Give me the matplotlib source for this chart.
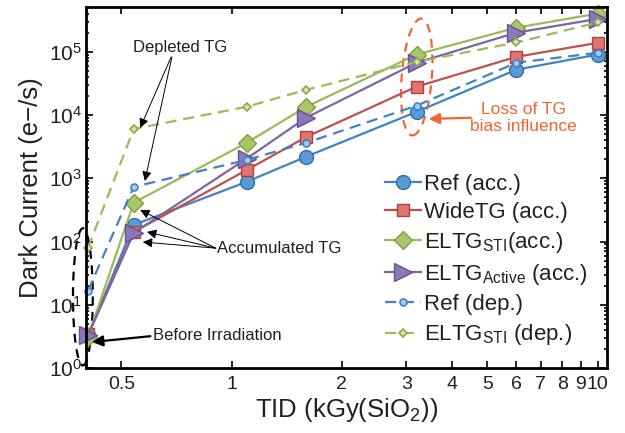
import numpy as np
import matplotlib
matplotlib.use("Agg")
import matplotlib.pyplot as plt
from matplotlib.patches import Ellipse
from matplotlib.ticker import FixedLocator, FixedFormatter, LogFormatterMathtext, LogLocator, NullFormatter

plt.rcParams['font.family'] = ['Liberation Sans', 'DejaVu Sans']
plt.rcParams['mathtext.fontset'] = 'custom'
plt.rcParams['mathtext.rm'] = 'Liberation Sans'
plt.rcParams['mathtext.it'] = 'Liberation Sans:italic'
plt.rcParams['mathtext.bf'] = 'Liberation Sans:bold'

TXT = '#231F20'

# TID (kGy(SiO2)), first point = before irradiation
tid = [0.405, 0.54, 1.1, 1.6, 3.2, 6.0, 10.0]

ref_acc = [3.3, 183, 880, 2200, 1.12e4, 5.2e4, 9.0e4]
widetg_acc = [3.4, 142, 1350, 4500, 2.8e4, 8.3e4, 1.38e5]
eltg_sti_acc = [3.1, 410, 3640, 1.35e4, 9.0e4, 2.4e5, 4.0e5]
eltg_act_acc = [3.3, 137, 2050, 9100, 6.7e4, 2.0e5, 3.3e5]
ref_dep = [16.6, 730, 1950, 3640, 1.4e4, 6.7e4, 9.6e4]
eltg_sti_dep = [79, 6000, 1.35e4, 2.5e4, 6.9e4, 1.4e5, 2.9e5]

labels = ['Ref (acc.)', 'WideTG (acc.)', r'ELTG$_{\mathrm{STI}}$(acc.)',
          r'ELTG$_{\mathrm{Active}}$ (acc.)', 'Ref (dep.)',
          r'ELTG$_{\mathrm{STI}}$ (dep.)']

xticks = [0.5, 1, 2, 3, 4, 5, 6, 7, 8, 9, 10]
xticklabels = ['0.5', '1', '2', '3', '4', '5', '6', '7', '8', '9', '10']

fig = plt.figure(figsize=(6.25, 4.33), dpi=100)
ax = fig.add_axes([0.1376, 0.150, 0.8334, 0.834])

ax.plot(tid, ref_acc, '-', color='#3F83C4', lw=1.6, marker='o', ms=10,
        mfc='#5A9BD5', mec='#2F6EAD', mew=1.0, clip_on=False, label=labels[0])
ax.plot(tid, widetg_acc, '-', color='#C0504D', lw=1.6, marker='s', ms=8.5,
        mfc='#E07470', mec='#B0403D', mew=1.0, clip_on=False, label=labels[1])
ax.plot(tid, eltg_sti_acc, '-', color='#9BBB59', lw=1.6, marker='D', ms=9,
        mfc='#A8C66A', mec='#80A040', mew=1.0, clip_on=False, label=labels[2])
ax.plot(tid, eltg_act_acc, '-', color='#8064A2', lw=1.6, marker='>', ms=13,
        mfc='#8C78B8', mec='#6A5090', mew=1.0, clip_on=False, label=labels[3])
ax.plot(tid, ref_dep, '--', color='#3F83C4', lw=1.6, dashes=(5, 3), marker='o', ms=5,
        mfc='#A9CBEA', mec='#3F83C4', mew=1.2, clip_on=False, label=labels[4])
ax.plot(tid, eltg_sti_dep, '--', color='#9BBB59', lw=1.6, dashes=(5, 3), marker='D', ms=4.5,
        mfc='#D6E6B8', mec='#8AAA4A', mew=1.2, clip_on=False, label=labels[5])

ax.set_xscale('log')
ax.set_yscale('log')
ax.set_xlim(0.4, 10.6)
ax.set_ylim(1, 5.1e5)

ax.xaxis.set_major_locator(FixedLocator(xticks))
ax.xaxis.set_major_formatter(FixedFormatter(xticklabels))
ax.xaxis.set_minor_locator(FixedLocator([]))
ax.xaxis.set_minor_formatter(NullFormatter())
ax.yaxis.set_major_locator(LogLocator(base=10, numticks=10))
ax.yaxis.set_major_formatter(LogFormatterMathtext())
ax.yaxis.set_minor_locator(LogLocator(base=10, subs=np.arange(2, 10), numticks=20))
ax.yaxis.set_minor_formatter(NullFormatter())

ax.tick_params(which='both', direction='in', top=True, right=True, colors='black',
               labelcolor=TXT, width=1.2)
ax.tick_params(which='major', length=5)
ax.tick_params(which='minor', length=2.5)
ax.tick_params(axis='x', labelsize=14, pad=6)
ax.tick_params(axis='y', labelsize=15, pad=3)
for s in ax.spines.values():
    s.set_linewidth(2.0)

ax.set_xlabel(r'TID (kGy(SiO$_2$))', fontsize=18.5, color=TXT, labelpad=2)
ax.set_ylabel('Dark Current (e\u2212/s)', fontsize=18.5, color=TXT, labelpad=4)

leg = ax.legend(loc='upper left', bbox_to_anchor=(0.548, 0.575), frameon=False,
                fontsize=16, handlelength=1.65, handletextpad=0.12,
                labelspacing=0.32, borderpad=0.1)
for t in leg.get_texts():
    t.set_color(TXT)

# annotations
arr_thin = dict(arrowstyle='-|>', color='black', lw=0.7, mutation_scale=14, shrinkA=0, shrinkB=0)
ax.annotate('Depleted TG', xy=(0.104, 0.665), xycoords='axes fraction',
            xytext=(0.180, 0.889), textcoords='axes fraction', ha='center', va='center',
            fontsize=12, color=TXT, arrowprops=dict(arr_thin, relpos=(0.42, 0.0)))
ax.annotate('', xy=(0.113, 0.518), xycoords='axes fraction',
            xytext=(0.165, 0.862), textcoords='axes fraction',
            arrowprops=arr_thin)

acc_tips = [(0.104, 0.438), (0.117, 0.377), (0.109, 0.349)]
ax.text(0.251, 0.332, 'Accumulated TG', transform=ax.transAxes, ha='left', va='center',
        fontsize=12, color=TXT)
for tip in acc_tips:
    ax.annotate('', xy=tip, xycoords='axes fraction',
                xytext=(0.249, 0.332), textcoords='axes fraction',
                arrowprops=arr_thin)

ax.annotate('Before Irradiation', xy=(0.0115, 0.072), xycoords='axes fraction',
            xytext=(0.129, 0.089), textcoords='axes fraction', ha='left', va='center',
            fontsize=12, color=TXT,
            arrowprops=dict(arrowstyle='-|>', color='black', lw=1.6, mutation_scale=16,
                            shrinkA=0, shrinkB=0, relpos=(0.0, 0.5)))

ax.text(0.839, 0.693, 'Loss of TG\nbias influence', transform=ax.transAxes,
        ha='center', va='center', fontsize=12.5, color='#F26530', linespacing=1.2)
ax.annotate('', xy=(0.658, 0.690), xycoords='axes fraction',
            xytext=(0.739, 0.693), textcoords='axes fraction',
            arrowprops=dict(arrowstyle='-|>', color='#F26530', lw=1.6, mutation_scale=16,
                            shrinkA=0, shrinkB=0))

ax.add_patch(Ellipse((0.635, 0.806), 0.058, 0.324, angle=-3, transform=ax.transAxes,
                     fill=False, ec='#F26530', lw=1.6, ls=(0, (4, 3)), clip_on=False))
ax.add_patch(Ellipse((-0.006, 0.197), 0.038, 0.38, transform=ax.transAxes,
                     fill=False, ec='black', lw=1.6, ls=(0, (4, 3)), clip_on=False))

fig.savefig('out.png', dpi=100)
